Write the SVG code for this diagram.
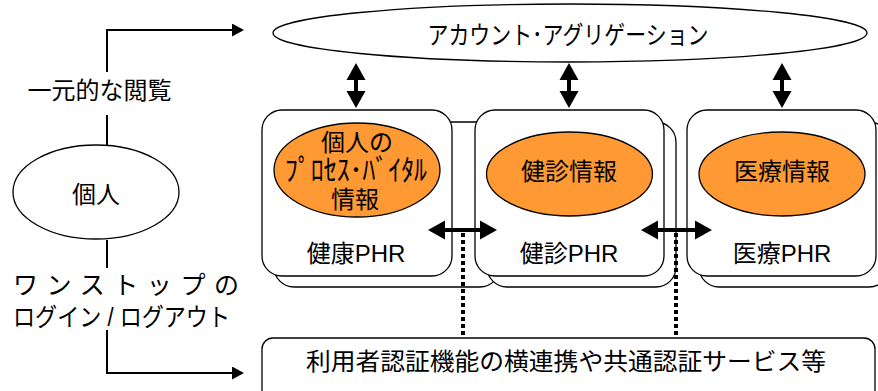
<svg xmlns="http://www.w3.org/2000/svg" width="878" height="391" viewBox="0 0 878 391">
<defs>
<style>
text{font-family:"Liberation Sans","Noto Sans CJK JP",sans-serif;fill:#000;}
.c{text-anchor:middle;}
.box{fill:#fff;stroke:#000;stroke-width:1.3;}
.oval{fill:#fff;stroke:#000;stroke-width:1.3;}
.info{fill:#FF9933;stroke:#000;stroke-width:1.3;}
.thin{fill:none;stroke:#000;stroke-width:2;}
.thick{fill:none;stroke:#000;stroke-width:4;marker-start:url(#big);marker-end:url(#big);}
.dot{fill:none;stroke:#000;stroke-width:4;stroke-dasharray:4 3;}
</style>
<marker id="big" viewBox="0 -10 17 20" refX="0" refY="0" markerWidth="17" markerHeight="20" markerUnits="userSpaceOnUse" orient="auto-start-reverse">
<path d="M0,-9.5 L17,0 L0,9.5 z" fill="#000"/>
</marker>
<marker id="small" viewBox="0 -6.5 12 13" refX="0" refY="0" markerWidth="12" markerHeight="13" markerUnits="userSpaceOnUse" orient="auto">
<path d="M0,-6.5 L12,0 L0,6.5 z" fill="#000"/>
</marker>
</defs>

<g id="backs">
<rect class="box" x="274" y="122" width="226" height="165" rx="20"/>
<rect class="box" x="487" y="122" width="189" height="165" rx="20"/>
<rect class="box" x="699" y="122" width="190" height="165" rx="20"/>
</g>

<g id="aggregation">
<ellipse class="oval" cx="570" cy="33" rx="297" ry="29"/>
<text class="c" x="568" y="43.5" font-size="25" textLength="281" lengthAdjust="spacingAndGlyphs">アカウント･アグリゲーション</text>
</g>

<g id="person">
<ellipse class="oval" cx="96" cy="192" rx="83" ry="47"/>
<text class="c" x="96" y="203" font-size="24">個人</text>
</g>

<g id="kenko-phr">
<rect class="box" x="262" y="110" width="190" height="166" rx="20"/>
<ellipse class="info" cx="357" cy="170" rx="83" ry="47"/>
<text class="c" x="357" y="150.5" font-size="24">個人の</text>
<text class="c" x="356" y="181" font-size="29" textLength="142" lengthAdjust="spacingAndGlyphs">ﾌﾟﾛｾｽ･ﾊﾞｲﾀﾙ</text>
<text class="c" x="355" y="208" font-size="24">情報</text>
<text class="c" x="356" y="262" font-size="24">健康PHR</text>
</g>

<g id="kenshin-phr">
<rect class="box" x="475" y="110" width="189" height="166" rx="20"/>
<ellipse class="info" cx="569.5" cy="174" rx="83" ry="42"/>
<text class="c" x="569" y="180" font-size="24">健診情報</text>
<text class="c" x="569" y="262" font-size="24">健診PHR</text>
</g>

<g id="iryo-phr">
<rect class="box" x="687" y="110" width="189" height="166" rx="20"/>
<ellipse class="info" cx="782" cy="174" rx="83" ry="42"/>
<text class="c" x="782" y="180" font-size="24">医療情報</text>
<text class="c" x="782" y="262" font-size="24">医療PHR</text>
</g>

<g id="auth">
<rect class="box" x="262" y="338" width="613" height="70" rx="11"/>
<text x="306" y="370" font-size="24" textLength="520" lengthAdjust="spacingAndGlyphs">利用者認証機能の横連携や共通認証サービス等</text>
</g>

<g id="connectors">
<path class="thin" d="M107,72 V30 H232" marker-end="url(#small)"/>
<path class="thin" d="M107,115 V145"/>
<path class="thin" d="M107,240 V268"/>
<path class="thin" d="M107,330 V373 H232" marker-end="url(#small)"/>
<path class="thick" d="M356,80 V91"/>
<path class="thick" d="M569,80 V91"/>
<path class="thick" d="M782,80 V91"/>
<path class="thick" d="M445,230 H480"/>
<path class="thick" d="M658,230 H695"/>
<path class="dot" d="M463,233 V338"/>
<path class="dot" d="M676,233 V338"/>
</g>

<g id="labels">
<text class="c" x="99.5" y="99" font-size="24">一元的な閲覧</text>
<text x="13" y="294" font-size="25" textLength="226" lengthAdjust="spacing">ワンストップの</text>
<text x="13" y="326" font-size="25" textLength="217" lengthAdjust="spacingAndGlyphs">ログイン / ログアウト</text>
</g>
</svg>
